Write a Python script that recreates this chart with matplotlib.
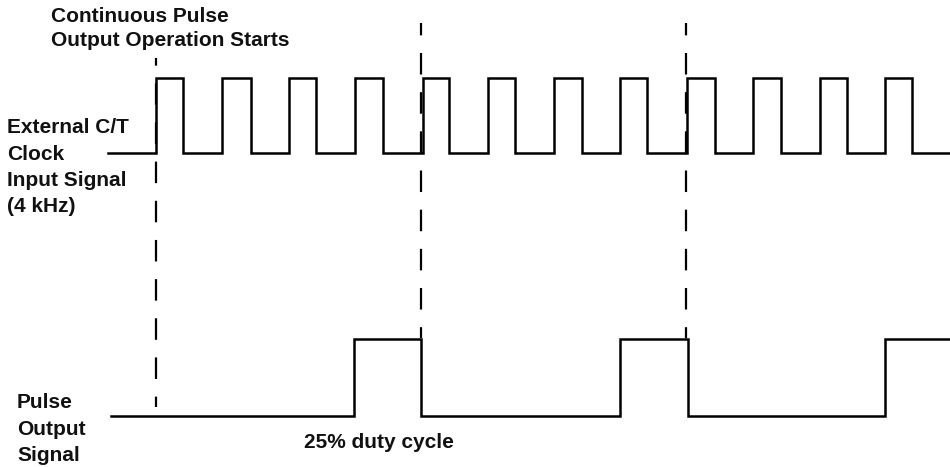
import matplotlib
matplotlib.use("Agg")
import matplotlib.pyplot as plt

# Timing, in clock periods (4 kHz -> 0.25 ms per period).
# t = 0 is where continuous pulse output operation starts.
clock_rise = [0.0, 0.99, 2.01, 3.0, 4.02, 5.0, 6.0, 7.0, 8.01, 9.01, 10.02, 11.0]
clock_fall = [0.41, 1.43, 2.41, 3.42, 4.42, 5.42, 6.42, 7.41, 8.43, 9.43, 10.42, 11.41]
clock_start, clock_end = -0.72, 11.96

pulse_rise = [2.98, 7.0, 11.0]
pulse_fall = [4.0, 8.02]
pulse_start, pulse_end = -0.68, 11.96

marker_t = [0.0, 4.0, 8.0]

clock_label = ["External C/T", "Clock", "Input Signal", "(4 kHz)"]
pulse_label = ["Pulse", "Output", "Signal"]
start_label = ["Continuous Pulse", "Output Operation Starts"]
duty_label = "25% duty cycle"


def waveform(start, end, rises, falls):
    edges = sorted([(t, 1) for t in rises] + [(t, 0) for t in falls])
    xs, ys = [start], [0]
    for t, lvl in edges:
        xs += [t, t]
        ys += [ys[-1], lvl]
    xs.append(end)
    ys.append(ys[-1])
    return xs, ys


plt.rcParams['font.family'] = ['Liberation Sans', 'DejaVu Sans']
plt.rcParams['lines.scale_dashes'] = False

W, H = 950, 467
fig = plt.figure(figsize=(W / 100, H / 100), dpi=100)
ax = fig.add_axes([0, 0, 1, 1])
# x in clock periods, y in pixel rows (top = 0)
x0, px_per_period = 156.0, 66.3
ax.set_xlim(-x0 / px_per_period, (W - x0) / px_per_period)
ax.set_ylim(H, 0)
ax.axis('off')

lw = 1.8

# lanes: (low row, high row)
clock_lane = (152.5, 78.0)
pulse_lane = (415.7, 339.0)

xs, ys = waveform(clock_start, clock_end, clock_rise, clock_fall)
ax.plot(xs, [clock_lane[0] - v * (clock_lane[0] - clock_lane[1]) for v in ys],
        color='black', lw=lw, solid_joinstyle='miter')

xs, ys = waveform(pulse_start, pulse_end, pulse_rise, pulse_fall)
ax.plot(xs, [pulse_lane[0] - v * (pulse_lane[0] - pulse_lane[1]) for v in ys],
        color='black', lw=lw, solid_joinstyle='miter')

# dashed markers
marker_top = [58.0, 22.7, 22.7]
marker_bottom = [407.0, 338.0, 338.0]
marker_offset = [10.0, 6.6]
for i, t in enumerate(marker_t):
    off = marker_offset[0] if i == 0 else marker_offset[1]
    ax.plot([t, t], [marker_top[i], marker_bottom[i]], color='black', lw=1.6,
            linestyle=(off, (15.5, 12.7)), dash_capstyle='butt')

fs = 15
txt = dict(fontsize=fs, fontweight='bold', color='#111111', va='baseline', ha='left')

for i, s in enumerate(start_label):
    fig.text(51 / W, 1 - (22 + 24.5 * i) / H, s, **txt)

for i, s in enumerate(clock_label):
    fig.text(7 / W, 1 - (133.3 + 26.3 * i) / H, s, **txt)

for i, s in enumerate(pulse_label):
    fig.text(17 / W, 1 - (408.3 + 26.3 * i) / H, s, **txt)

fig.text(304 / W, 1 - 448 / H, duty_label, **txt)

fig.savefig('out.png', dpi=100)
